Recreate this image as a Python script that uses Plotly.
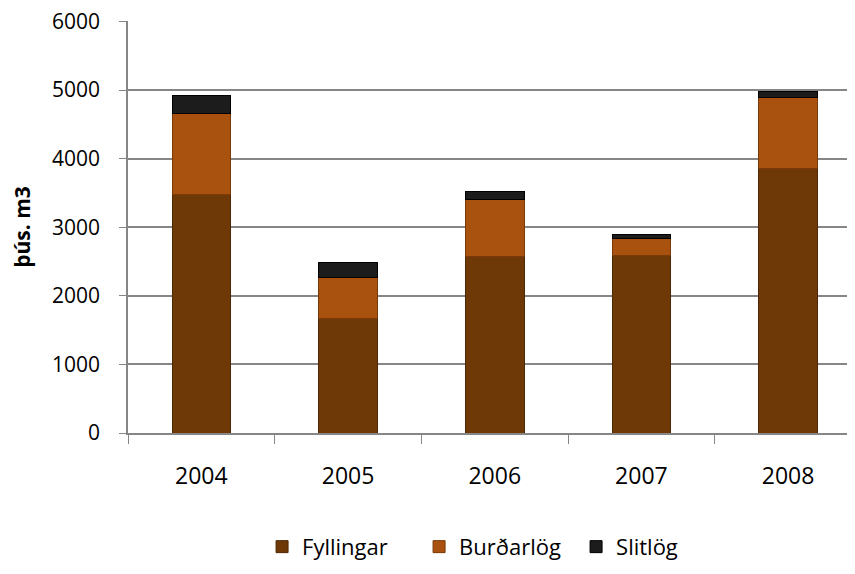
import plotly.graph_objects as go

years = ["2004", "2005", "2006", "2007", "2008"]
fyllingar = [3480, 1670, 2570, 2590, 3850]
burdarlog = [1175, 600, 840, 240, 1040]
slitlog = [270, 220, 105, 70, 95]

font = "Open Sans"

fig = go.Figure()
fig.add_trace(go.Bar(x=years, y=fyllingar, name="Fyllingar", width=0.4,
                     marker=dict(color="#6E3906", line=dict(color="#4E2804", width=1))))
fig.add_trace(go.Bar(x=years, y=burdarlog, name="Burðarlög", width=0.4,
                     marker=dict(color="#A9520F", line=dict(color="#7A3A08", width=1))))
fig.add_trace(go.Bar(x=years, y=slitlog, name="Slitlög", width=0.4,
                     marker=dict(color="#1C1C1C", line=dict(color="#000000", width=1))))

# page body has an 8px margin, so the figure is a bit smaller than the window
fig.update_layout(
    barmode="stack",
    width=847, height=566,
    margin=dict(l=120, r=0, t=13, b=141, autoexpand=False),
    plot_bgcolor="white", paper_bgcolor="white",
    font=dict(family=font, size=20, color="#000000"),
    showlegend=True,
    legend=dict(orientation="h", xref="container", x=0.578, xanchor="center",
                yref="container", y=0.048, yanchor="middle",
                font=dict(size=22), itemwidth=30, entrywidth=112,
                traceorder="normal"),
)
fig.update_xaxes(
    range=[-0.5, 4.456], automargin=False,
    showline=True, linecolor="#868686", linewidth=1.5,
    ticks="outside", tickson="boundaries", ticklen=9, tickcolor="#868686",
    tickfont=dict(size=23), ticklabelstandoff=22, showgrid=False,
)
fig.update_yaxes(
    range=[0, 6006], tickvals=[0, 1000, 2000, 3000, 4000, 5000, 6000],
    automargin=False, ticklabeloverflow="allow",
    showline=True, linecolor="#868686", linewidth=1.5,
    ticks="outside", ticklen=7, tickcolor="#868686",
    gridcolor="#868686", gridwidth=1.5,
    tickfont=dict(size=21), ticklabelstandoff=15,
    title=dict(text="<b>þús. m3</b>", font=dict(size=21), standoff=22),
    zeroline=False,
)

fig.write_html("out.html")
